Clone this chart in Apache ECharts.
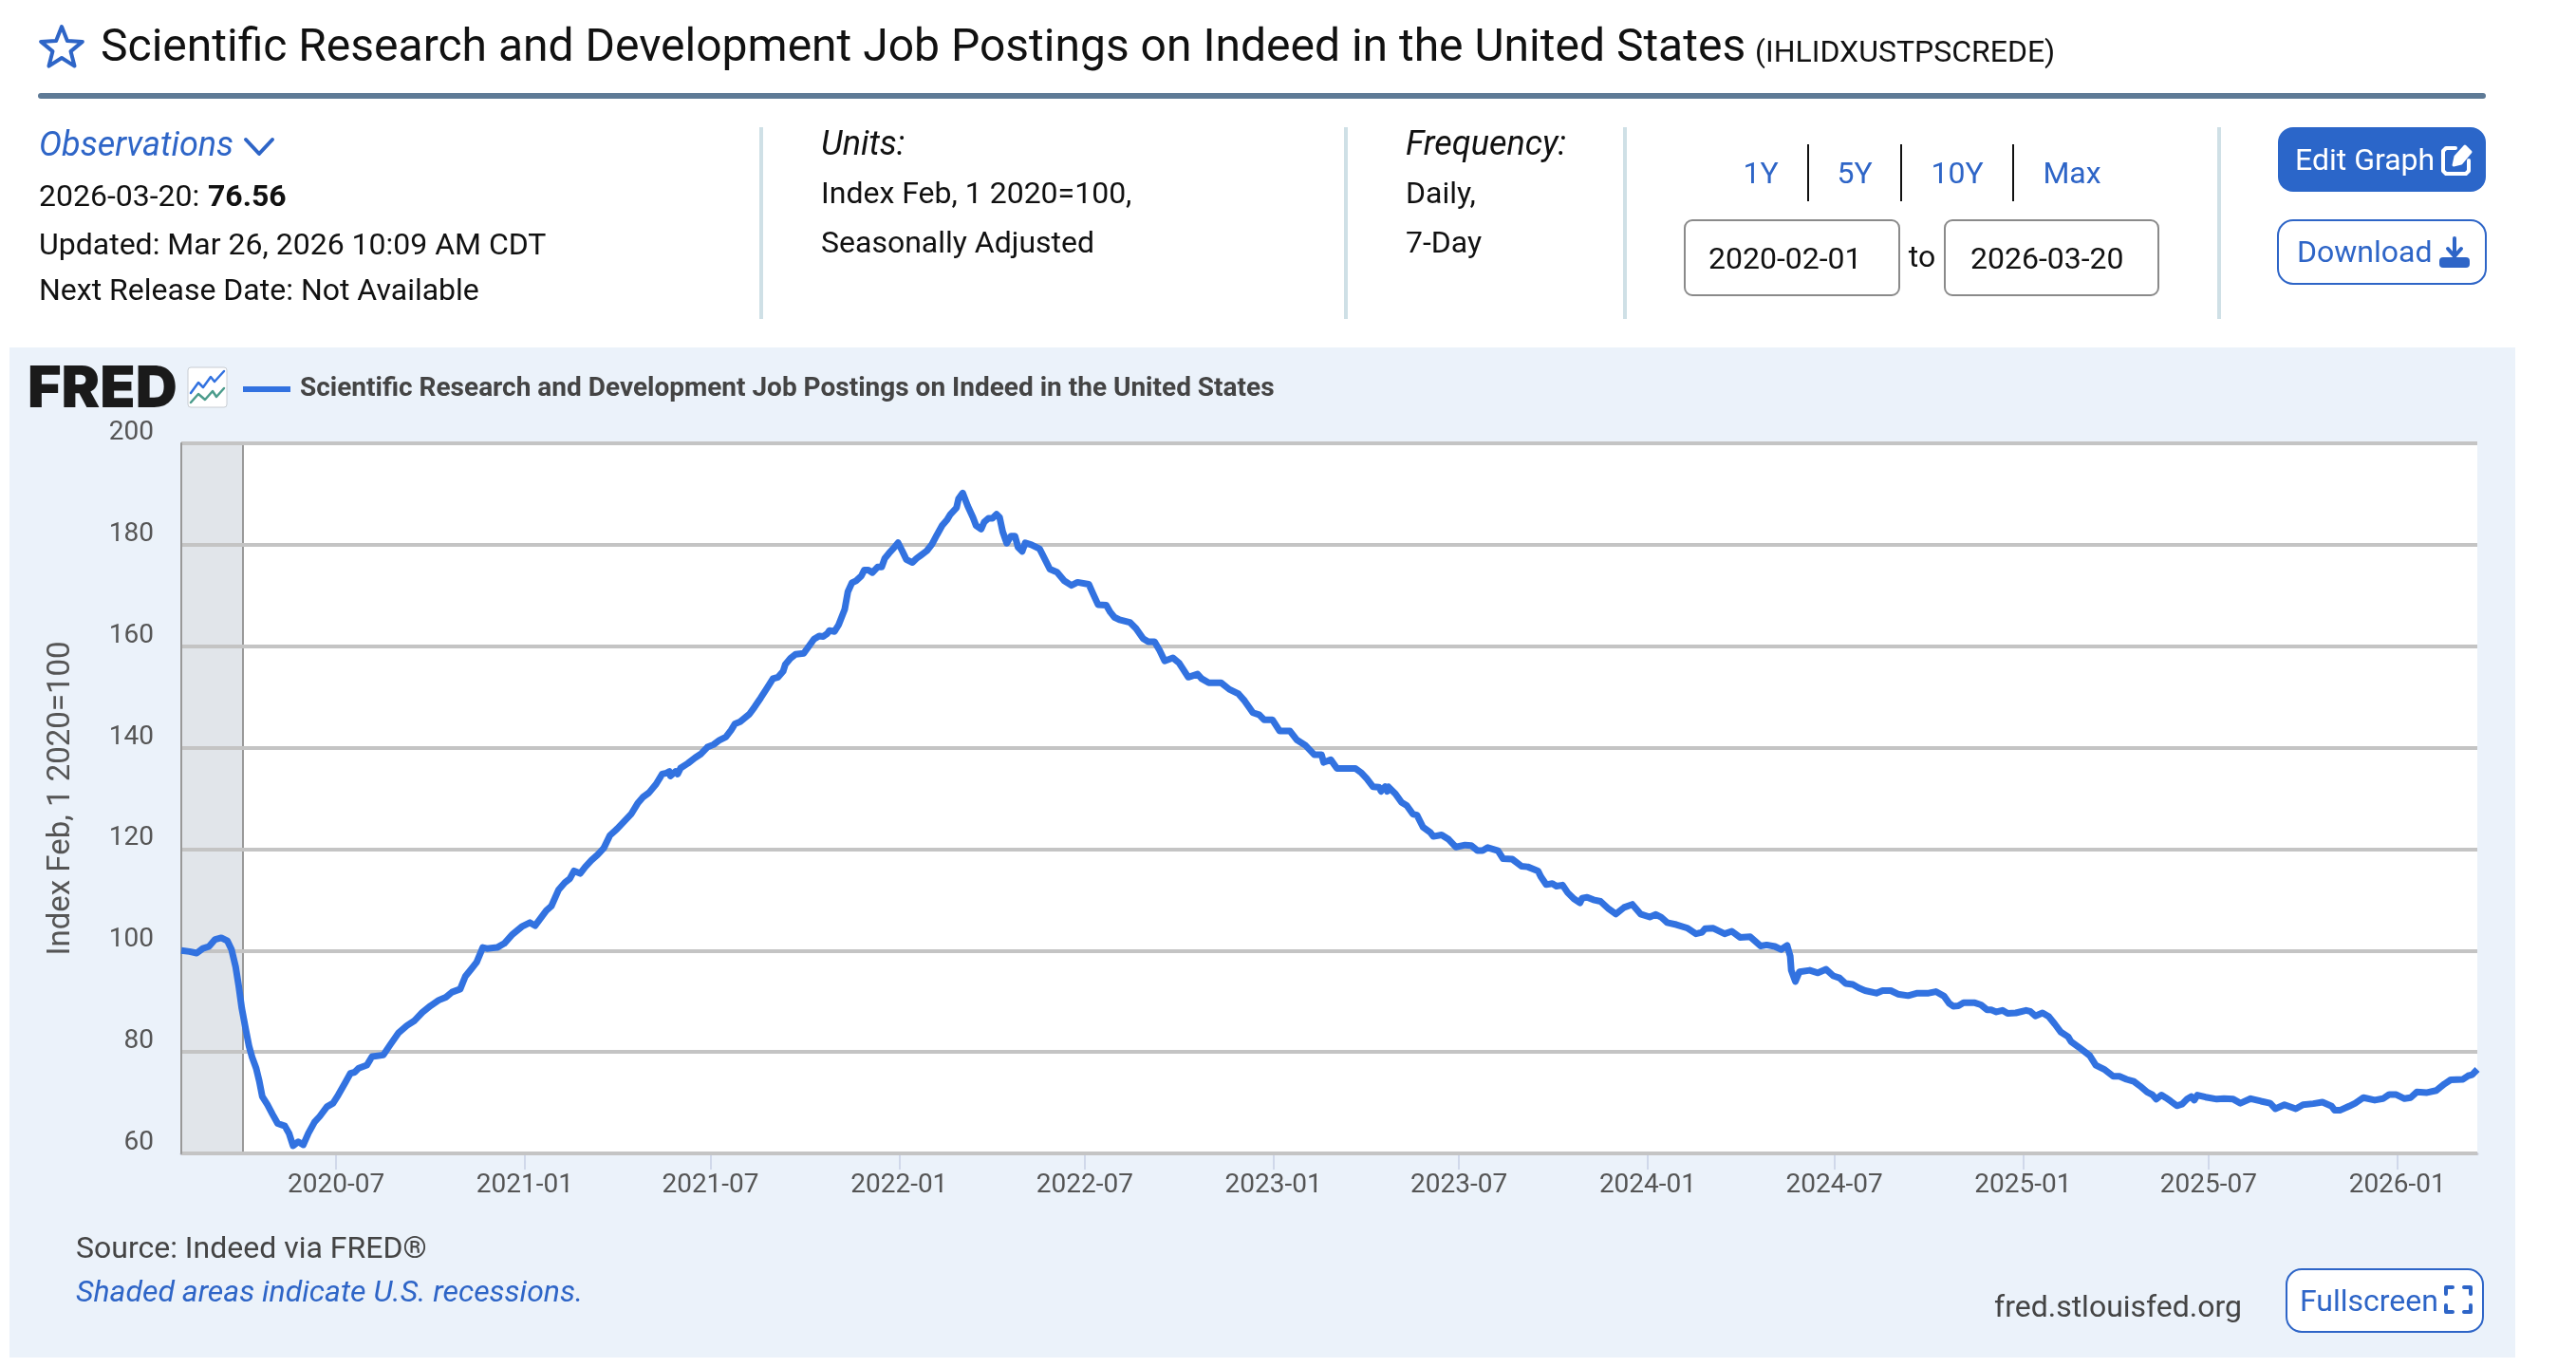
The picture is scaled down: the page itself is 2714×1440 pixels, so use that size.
<!DOCTYPE html>
<html>
<head>
<meta charset="utf-8">
<style>html,body{margin:0;padding:0;background:#fff}#chart{width:2714px;height:1440px}</style>
<script src="https://cdn.jsdelivr.net/npm/echarts@6/dist/echarts.min.js"></script>
</head>
<body>
<div id="chart"></div>
<script>
const seriesName = 'Scientific Research and Development Job Postings on Indeed in the United States';
const startDate = '2020-02-01';
const endDate = '2026-03-20';
const recessionStart = '2020-02-01';
const recessionEnd = '2020-04-01';
const tickDates = ['2020-07-01','2021-01-01','2021-07-01','2022-01-01','2022-07-01','2023-01-01','2023-07-01','2024-01-01','2024-07-01','2025-01-01','2025-07-01','2026-01-01'];
// days since startDate
const dayOffsets = [
0,8,15,21,27,33,39,45,49,53,56,59,63,66,69,73,76,79,84,89,94,101,105,109,114,119,124,130,135,142,148,153,160,165,169,173,181,186,197,204,212,220,227,235,243,251,258,264,272,277,283,288,294,298,308,315,
323,332,340,345,356,361,368,374,379,383,389,394,400,406,412,418,425,432,439,445,450,456,463,469,473,476,477,482,484,487,494,501,507,513,519,525,531,536,540,545,554,559,565,571,577,582,587,589,594,599,607,612,617,622,626,630,632,637,641,647,650,654,658,663,666,670,674,679,683,686,690,694,699,703,707,713,717,721,727,732,737,742,747,750,756,758,762,767,772,775,780,
783,787,791,795,798,801,805,809,813,816,820,823,829,837,841,847,854,861,868,874,885,889,894,902,906,910,915,925,931,938,943,949,954,959,967,973,982,991,995,1002,1014,1022,1031,1037,1045,1051,1056,1064,1071,1081,1088,1096,1105,1112,1114,1121,1127,1136,
1145,1151,1156,1162,1168,1170,1174,1176,1177,1184,1190,1195,1201,1205,1211,1218,1221,1229,1236,1243,1252,1258,1264,1269,1274,1284,1289,1298,1307,1313,1323,1326,1331,1337,1341,1347,1352,1358,1364,1366,1371,1377,1384,1392,1399,1407,1415,1423,1432,1438,1443,1449,1458,1469,1477,1483,1486,1494,1505,1512,1520,1530,
1540,1546,1554,1560,1566,1569,1570,1574,1578,1588,1596,1604,1611,1617,1623,1630,1636,1642,1653,1659,1667,1674,1684,1693,1704,1711,1719,1724,1728,1733,1738,1749,1755,1761,1765,1770,1776,1781,1789,1799,1803,1808,1815,1821,1827,1833,1840,1843,1850,1861,
1867,1875,1884,1890,1897,1904,1910,1917,1922,1926,1931,1935,1940,1946,1951,1956,1960,1963,1966,1974,1985,1992,2001,2008,2018,2028,2037,2042,2051,2062,2069,2079,2088,2097,2100,2105,2114,2120,2128,2139,2147,2153,2160,2168,2174,2180,2190,2199,2207,2213,2225,2230,2234,2239
];
const indexValues = [
100,99.8,99.5,100.4,100.8,102.2,102.5,101.9,100.2,96.8,93,88.6,84.3,81.2,79,76.8,74.3,71.2,69.6,67.7,65.9,65.4,64,61.5,62.3,61.7,64,66.2,67.3,69.2,69.9,71.5,74,75.8,76,76.8,77.4,79.1,79.4,81.5,83.8,85.2,86.1,87.8,89.1,90.2,90.8,91.8,92.4,94.9,96.4,97.7,100.6,100.4,100.6,101.4,
103.2,104.7,105.5,104.9,107.9,108.8,112,113.4,114.2,115.7,115.2,116.5,117.8,118.9,120.2,122.7,124,125.5,127,129,130.2,131.1,132.8,134.8,135,135.3,134.4,135.3,134.8,136,136.9,138,138.8,140.1,140.6,141.5,142.1,143.4,144.7,145.1,146.6,148,149.8,151.7,153.6,153.9,155.1,156.4,157.6,158.4,158.6,160,161.4,162,161.9,162.5,163.1,162.9,164.2,167.3,170.7,172.5,172.9,173.8,175,175,174.5,175.6,175.6,177.3,178.3,179.2,180.4,178.8,177.1,176.5,177.3,177.9,178.8,180.1,182,183.8,185,186,187.3,189.1,190.2,187.6,185.4,183.8,183.1,
184.5,185.2,185.2,186,185.4,182.6,180.3,181.7,181.7,179.5,178.7,180.4,180,179.2,177.6,175.2,174.6,172.9,172,172.6,172.2,170.4,168.2,168.1,166.7,165.7,165.2,164.7,163.5,161.5,160.9,160.9,159.2,157.1,157.7,156.7,153.9,154.5,153.6,152.8,152.8,151.5,150.6,149.2,146.9,146.5,145.5,145.5,143.3,143.3,141.5,140.5,138.6,138.6,137.1,137.6,135.9,135.9,
135.9,135,133.9,132.3,132.2,131.4,132.3,131.4,132.3,130.9,129.2,128.6,126.9,126.7,124.3,123.3,122.5,122.8,121.9,120.4,120.8,120.7,119.7,119.7,120.3,119.7,118.1,118,116.6,116.5,115.7,114.5,113,113.2,112.7,112.9,111.4,110.2,109.4,110.3,110.5,110,109.7,108.2,107.2,108.5,109.1,107.2,106.6,107.1,106.6,105.5,105.1,104.4,103.3,103.6,104.3,104.4,103.3,103.8,102.6,102.7,
100.9,101.1,100.8,100.2,101,98.9,96.1,93.9,95.8,96.1,95.6,96.3,95,94.6,93.5,93.3,92.6,92.1,91.6,92.1,92.1,91.4,91.1,91.6,91.6,91.9,91,89.6,89,89.1,89.7,89.7,89.3,88.3,88.3,87.9,88.2,87.6,87.7,88.2,88,87.1,87.7,87,85.5,83.9,83,82,81,79.3,
77.4,76.6,75.2,75.2,74.6,74.2,73.3,72.1,71.6,70.7,71.5,71,70.3,69.4,69.7,70.7,71.2,70.5,71.5,71.1,70.7,70.8,70.7,69.9,70.8,70.3,69.9,68.8,69.6,68.8,69.6,69.8,70.1,69.3,68.5,68.5,69.3,69.9,71,70.5,70.8,71.6,71.6,70.8,71,72.1,72,72.4,73.7,74.5,74.6,75.3,75.5,76.56
];

const ts = s => new Date(s + 'T00:00:00Z').getTime();
const DAY = 86400000;
const seriesData = dayOffsets.map((d, i) => [ts(startDate) + d * DAY, indexValues[i]]);

const FONT = 'Roboto, sans-serif';
const BLUE = '#2E65C7';
const INK = '#111111';
const GREY = '#444444';

function txt(x, y, text, size, fill, extra) {
  extra = extra || {};
  return { type: 'text', x: x, y: y, silent: true, z: 10, scaleX: extra.scaleX || 1,
    style: { text: text, fontFamily: extra.family || FONT, fontSize: size, fontWeight: extra.weight || 'normal',
      fontStyle: extra.italic ? 'italic' : 'normal', fill: fill, align: extra.align || 'left', verticalAlign: 'middle' } };
}
function box(x, y, w, h, r, fill, stroke, lw, z) {
  return { type: 'rect', silent: true, z: z === undefined ? 5 : z, shape: { x: x, y: y, width: w, height: h, r: r },
    style: { fill: fill, stroke: stroke || 'none', lineWidth: lw || 0 } };
}
function stroke(points, color, lw, closed, fill) {
  return { type: closed ? 'polygon' : 'polyline', silent: true, z: 10, shape: { points: points },
    style: { fill: fill || 'none', stroke: color, lineWidth: lw, lineJoin: 'round', lineCap: 'round' } };
}
const starPoints = [];
for (let i = 0; i < 10; i++) {
  const r = i % 2 ? 10 : 23, a = -Math.PI / 2 + i * Math.PI / 5;
  starPoints.push([65 + r * Math.cos(a), 51 + r * Math.sin(a)]);
}
const graphics = [
  box(10, 366, 2640, 1064, 0, '#EBF2FA', 'none', 0, -100),
  stroke(starPoints, BLUE, 4, true),
  txt(106, 52, seriesName, 48, INK),
  txt(1849, 57, '(IHLIDXUSTPSCREDE)', 32, INK),
  box(40, 98, 2579, 6, 3, '#5E7A96'),
  txt(41, 155, 'Observations', 36, BLUE, { italic: true }),
  stroke([[259, 147], [273, 162], [287, 147]], BLUE, 4),
  txt(41, 209, '2026-03-20: ', 32, INK),
  txt(219, 209, '76.56', 32, INK, { weight: 'bold' }),
  txt(41, 260, 'Updated: Mar 26, 2026 10:09 AM CDT', 32, INK),
  txt(41, 308, 'Next Release Date: Not Available', 32, INK),
  box(800, 134, 4, 202, 0, '#CFE0E6'), box(1416, 134, 4, 202, 0, '#CFE0E6'),
  box(1710, 134, 4, 202, 0, '#CFE0E6'), box(2336, 134, 4, 202, 0, '#CFE0E6'),
  txt(865, 154, 'Units:', 36, INK, { italic: true }),
  txt(865, 206, 'Index Feb, 1 2020=100,', 32, INK),
  txt(865, 258, 'Seasonally Adjusted', 32, INK),
  txt(1481, 154, 'Frequency:', 36, INK, { italic: true }),
  txt(1481, 206, 'Daily,', 32, INK),
  txt(1481, 258, '7-Day', 32, INK),
  txt(1855, 185, '1Y', 32, BLUE, { align: 'center' }),
  txt(1954, 185, '5Y', 32, BLUE, { align: 'center' }),
  txt(2062, 185, '10Y', 32, BLUE, { align: 'center' }),
  txt(2183, 185, 'Max', 32, BLUE, { align: 'center' }),
  box(1904, 152, 2, 60, 0, '#111'), box(2002, 152, 2, 60, 0, '#111'), box(2120, 152, 2, 60, 0, '#111'),
  box(1775, 232, 226, 79, 8, '#fff', '#8a8a8a', 2),
  box(2049, 232, 225, 79, 8, '#fff', '#8a8a8a', 2),
  txt(1800, 275, '2020-02-01', 32, INK),
  txt(2025, 273, 'to', 32, INK, { align: 'center' }),
  txt(2076, 275, '2026-03-20', 32, INK),
  box(2400, 134, 219, 68, 16, '#2B66C9'),
  txt(2418, 171, 'Edit Graph', 32, '#fff'),
  stroke([[2587, 156], [2577, 156], [2574, 159], [2574, 180], [2577, 183], [2598, 183], [2601, 180], [2601, 169]], '#fff', 4),
  stroke([[2585, 174], [2587, 165], [2597, 154], [2603, 160], [2593, 172]], '#fff', 3, true, '#fff'),
  box(2400, 232, 219, 67, 16, '#fff', BLUE, 2),
  txt(2420, 268, 'Download', 32, BLUE),
  stroke([[2586, 251], [2586, 269]], BLUE, 4),
  stroke([[2579, 262], [2586, 270], [2593, 262]], BLUE, 4),
  box(2570, 271, 32, 11, 4, BLUE),
  txt(29, 411, 'FRED', 61, '#1a1a1a', { weight: 900, family: 'Inter, sans-serif' }),
  box(198, 387, 41, 42, 3, '#fff', '#c8cdd2', 1),
  stroke([[201, 414], [209, 403], [214, 408], [222, 397], [226, 402], [236, 391]], '#3272E0', 2.5),
  stroke([[201, 424], [209, 415], [216, 421], [224, 412], [228, 418], [236, 409]], '#4C9C8C', 2.5),
  txt(80, 1317, 'Source: Indeed via FRED®', 32, GREY),
  txt(80, 1363, 'Shaded areas indicate U.S. recessions.', 32, BLUE, { italic: true }),
  txt(2101, 1379, 'fred.stlouisfed.org', 32, GREY),
  box(2409, 1337, 207, 66, 16, '#fff', BLUE, 2),
  txt(2423, 1373, 'Fullscreen', 32, BLUE),
  stroke([[2577, 1363], [2577, 1356], [2584, 1356]], BLUE, 4),
  stroke([[2596, 1356], [2603, 1356], [2603, 1363]], BLUE, 4),
  stroke([[2603, 1375], [2603, 1382], [2596, 1382]], BLUE, 4),
  stroke([[2584, 1382], [2577, 1382], [2577, 1375]], BLUE, 4)
];

const chart = echarts.init(document.getElementById('chart'), null, { width: 2714, height: 1440 });
chart.setOption({
  animation: false,
  backgroundColor: '#ffffff',
  textStyle: { fontFamily: FONT },
  graphic: { elements: graphics },
  legend: {
    show: true, left: 256, top: 396, padding: 0, itemWidth: 50, itemHeight: 6, itemGap: 0,
    icon: 'rect', selectedMode: false,
    textStyle: { fontFamily: FONT, fontSize: 28, fontWeight: 'bold', color: GREY, padding: [0, 0, 0, 5] },
    data: [{ name: seriesName }]
  },
  grid: { left: 191, right: 104, top: 467, bottom: 225, show: true, backgroundColor: '#ffffff', borderWidth: 0 },
  xAxis: {
    type: 'value', min: ts(startDate), max: ts(endDate), scale: true,
    axisLine: { show: true, lineStyle: { color: '#C9CCD9', width: 3 } },
    axisTick: { show: true, length: 17, customValues: tickDates.map(ts), lineStyle: { color: '#D0D8EA', width: 2 } },
    axisLabel: { show: true, customValues: tickDates.map(ts), margin: 20, fontFamily: FONT, fontSize: 28, color: '#555555',
      formatter: v => new Date(v).toISOString().slice(0, 7) },
    splitLine: { show: false }
  },
  yAxis: {
    type: 'value', min: 60, max: 200, interval: 20, z: 2,
    name: 'Index Feb, 1 2020=100', nameLocation: 'middle', nameGap: 110, nameRotate: 90,
    nameTextStyle: { fontFamily: FONT, fontSize: 33, color: '#555555' },
    axisLine: { show: true, lineStyle: { color: '#999999', width: 2 } },
    axisTick: { show: false },
    axisLabel: { margin: 29, fontFamily: FONT, fontSize: 28, color: '#555555', verticalAlign: 'bottom', lineHeight: 22 },
    splitLine: { show: true, lineStyle: { color: '#C4C4C4', width: 4 } }
  },
  series: [{
    name: seriesName, type: 'line', z: 3, data: seriesData, showSymbol: false, symbol: 'none', smooth: false,
    lineStyle: { color: '#3272E0', width: 7, join: 'round' }, itemStyle: { color: '#3272E0' },
    markArea: { silent: true, z: 1, itemStyle: { color: '#E1E5EA' },
      data: [[{ xAxis: ts(recessionStart) }, { xAxis: ts(recessionEnd) }]] },
    markLine: { silent: true, z: 1, symbol: 'none', label: { show: false },
      lineStyle: { color: '#999999', width: 2, type: 'solid' }, data: [{ xAxis: ts(recessionEnd) }] }
  }]
});
</script>
</body>
</html>
